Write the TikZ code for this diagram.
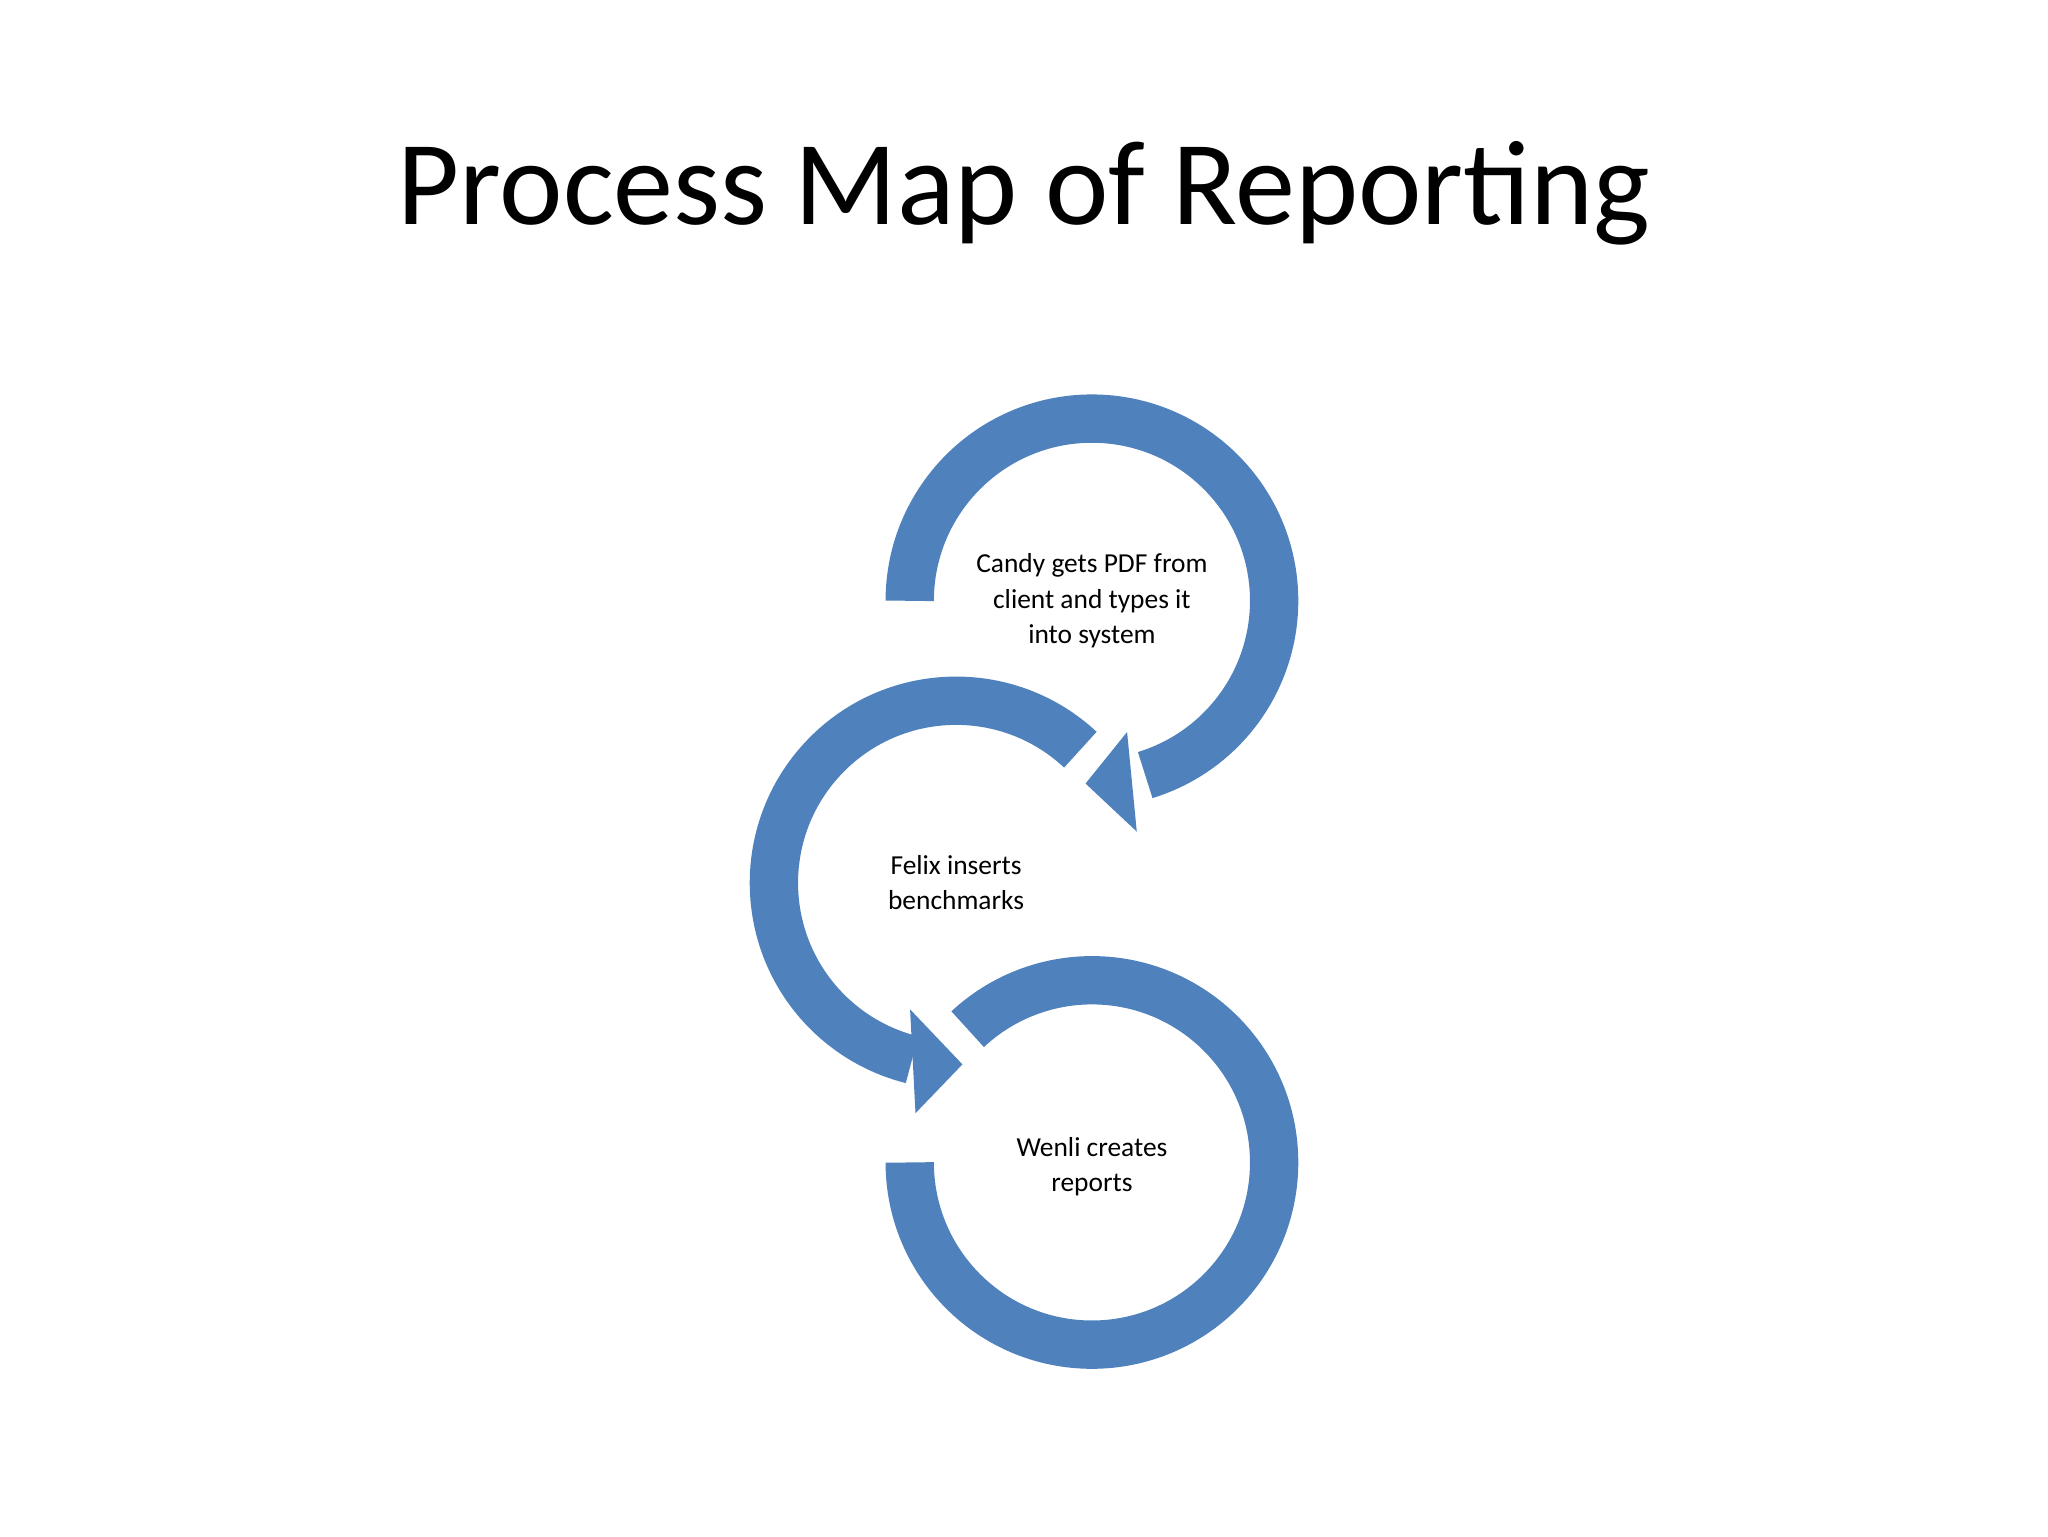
\documentclass[tikz,border=0pt]{standalone}
\usepackage{fontspec}
\setmainfont{Carlito}
\usetikzlibrary{calc}
\definecolor{ringblue}{HTML}{4F81BD}
\begin{document}
\begin{tikzpicture}[x=1pt,y=1pt,
  ring/.style={draw=ringblue,line width=37pt,line cap=butt},
  head/.style={fill=ringblue},
  lbl/.style={align=center,font=\fontsize{21}{27}\selectfont}]
\useasboundingbox (0,0) rectangle (1568,1176);
\node (title) at (784,1028) {\fontsize{92}{100}\selectfont Process Map of Reporting};
\coordinate (c1) at (836,716);
\coordinate (c2) at (732,500);
\coordinate (c3) at (836,286);
% top ring
\draw[ring] (c1) ++(180:139.5) arc[start angle=180,end angle=-73,radius=139.5];
\fill[head] ($(c1)+(-75:104)$) -- ($(c1)+(-92:140)$) -- ($(c1)+(-79:180)$) -- cycle;
% middle ring
\draw[ring] (c2) ++(47:139.5) arc[start angle=47,end angle=256,radius=139.5];
\fill[head] ($(c2)+(-110:103)$) -- ($(c2)+(-88:139)$) -- ($(c2)+(-100:179)$) -- cycle;
% bottom ring
\draw[ring] (c3) ++(180:139.5) arc[start angle=180,end angle=493,radius=139.5];
\node[lbl] (t1) at (836,716) {Candy gets PDF from\\client and types it\\into system};
\node[lbl] (t2) at (732,500) {Felix inserts\\benchmarks};
\node[lbl] (t3) at (836,283) {Wenli creates\\reports};
\end{tikzpicture}
\end{document}
